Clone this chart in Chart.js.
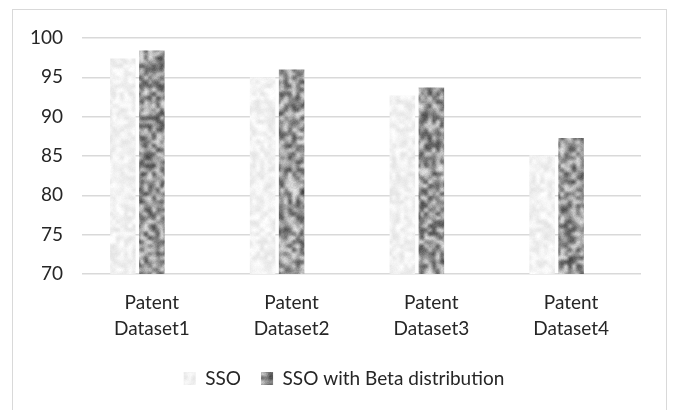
<!DOCTYPE html>
<html>
<head>
<meta charset="utf-8">
<script src="https://cdn.jsdelivr.net/npm/chart.js@4.4.1/dist/chart.umd.min.js"></script>
<style>
  html, body { margin: 0; padding: 0; background: #ffffff; }
  #wrap { width: 673px; height: 410px; }
</style>
</head>
<body>
<div id="wrap"><canvas id="c" width="673" height="410"></canvas></div>
<script>
// Accuracy (%) per patent dataset
const categories = [["Patent", "Dataset1"], ["Patent", "Dataset2"], ["Patent", "Dataset3"], ["Patent", "Dataset4"]];
const seriesNames = ["SSO", "SSO with Beta distribution"];
const ssoValues = [97.4, 95.0, 92.7, 85.1];
const betaValues = [98.4, 96.0, 93.7, 87.3];
const yTicks = [70, 75, 80, 85, 90, 95, 100];

const canvas = document.getElementById('c');
const ctx = canvas.getContext('2d');

// Small seeded generator so the marble texture is the same on every load
function mulberry32(a) {
  return function () {
    a |= 0; a = a + 0x6D2B79F5 | 0;
    let t = Math.imul(a ^ a >>> 15, 1 | a);
    t = t + Math.imul(t ^ t >>> 7, 61 | t) ^ t;
    return ((t ^ t >>> 14) >>> 0) / 4294967296;
  };
}

// Blotchy granite-style fill used for the bars (one tile covering the whole canvas)
function granite(seed, base, amp, fine, cell) {
  const W = 680, H = 420;
  const nw = Math.ceil(W / cell), nh = Math.ceil(H / cell);
  const rnd = mulberry32(seed);
  const small = document.createElement('canvas');
  small.width = nw; small.height = nh;
  const sctx = small.getContext('2d');
  const img = sctx.createImageData(nw, nh);
  for (let i = 0; i < nw * nh; i++) {
    const v = Math.max(0, Math.min(255, base + (rnd() - 0.5) * 2 * amp));
    img.data[i * 4] = v; img.data[i * 4 + 1] = v; img.data[i * 4 + 2] = v; img.data[i * 4 + 3] = 255;
  }
  sctx.putImageData(img, 0, 0);
  const tile = document.createElement('canvas');
  tile.width = W; tile.height = H;
  const t = tile.getContext('2d');
  t.imageSmoothingEnabled = true;
  t.imageSmoothingQuality = 'high';
  t.drawImage(small, 0, 0, nw * cell, nh * cell);
  const d = t.getImageData(0, 0, W, H);
  for (let i = 0; i < W * H; i++) {
    const g = (rnd() - 0.5) * fine;
    for (let k = 0; k < 3; k++) {
      d.data[i * 4 + k] = Math.max(0, Math.min(255, d.data[i * 4 + k] + g));
    }
  }
  t.putImageData(d, 0, 0);
  return ctx.createPattern(tile, 'repeat');
}

const lightFill = granite(11, 241, 14, 6, 4);
const darkFill = granite(29, 150, 75, 18, 4);

const FONT = "Lato, 'Liberation Sans', sans-serif";
const TEXT = '#262626';
const GRID = '#d9d9d9';

// Outer frame and white background
const framePlugin = {
  id: 'frame',
  beforeDraw(chart) {
    const c = chart.ctx;
    c.save();
    c.fillStyle = '#ffffff';
    c.fillRect(0, 0, chart.width, chart.height);
    c.strokeStyle = '#d9d9d9';
    c.lineWidth = 1;
    c.strokeRect(12.5, 9.5, 654, 430);
    c.restore();
  }
};

new Chart(canvas, {
  type: 'bar',
  data: {
    labels: categories,
    datasets: [
      { label: seriesNames[0], data: ssoValues, backgroundColor: lightFill, borderWidth: 0 },
      { label: seriesNames[1], data: betaValues, backgroundColor: darkFill, borderWidth: 0 },
      { label: '', data: categories.map(() => null), backgroundColor: 'rgba(0,0,0,0)' }
    ]
  },
  options: {
    responsive: false,
    animation: false,
    events: [],
    layout: { padding: { top: 38, bottom: 12, left: 15, right: 0 } },
    datasets: { bar: { categoryPercentage: 0.6225, barPercentage: 0.88 } },
    scales: {
      x: {
        grid: { display: false, drawTicks: false },
        border: { display: false },
        ticks: { color: TEXT, font: { family: FONT, size: 19, lineHeight: 1.37 }, padding: 16, maxRotation: 0 },
        afterFit(scale) { scale.height = 75; }
      },
      y: {
        min: 70, max: 100,
        afterBuildTicks(scale) { scale.ticks = yTicks.map(v => ({ value: v })); },
        grid: { color: GRID, lineWidth: 1.5, drawTicks: false },
        border: { display: false },
        ticks: { color: TEXT, font: { family: FONT, size: 19 }, padding: 19 },
        afterFit(scale) { scale.width = 67; }
      },
      yRight: {
        position: 'right',
        display: true,
        grid: { display: false, drawTicks: false },
        border: { display: false },
        ticks: { display: false },
        afterFit(scale) { scale.width = 32; }
      }
    },
    plugins: {
      legend: {
        position: 'bottom',
        labels: {
          color: TEXT,
          font: { family: FONT, size: 19 },
          boxWidth: 12,
          boxHeight: 13,
          padding: 20,
          filter: item => item.datasetIndex < 2
        }
      },
      tooltip: { enabled: false },
      title: { display: false }
    }
  },
  plugins: [framePlugin]
});
</script>
</body>
</html>
